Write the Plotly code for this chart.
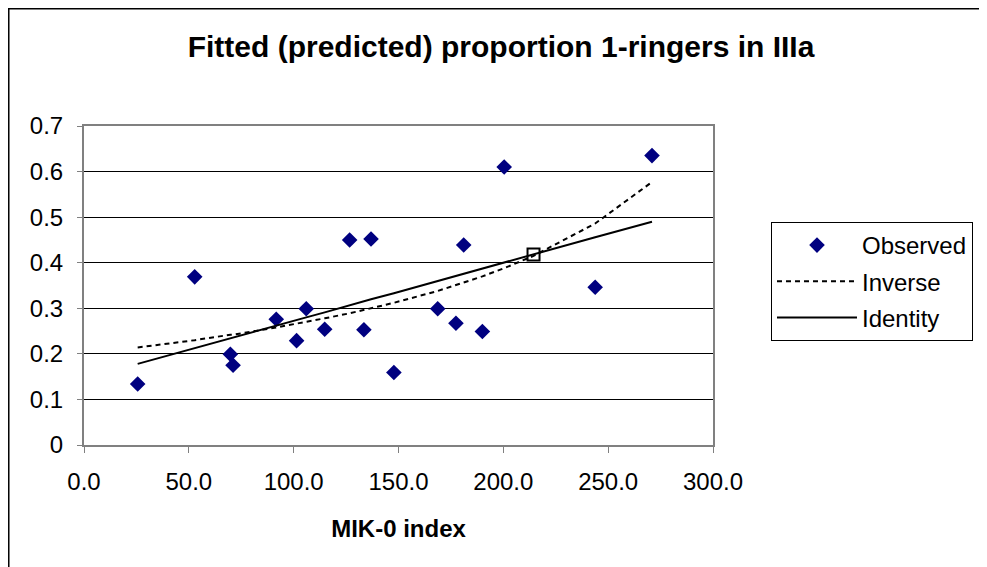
import plotly.graph_objects as go

# observed points (MIK-0 index, proportion of 1-ringers)
obs_x = [25.6, 52.8, 69.8, 71.1, 91.7, 101.4, 106.0, 114.8, 126.7, 133.5, 136.9, 147.8,
         168.7, 177.4, 181.1, 190.0, 200.4, 243.8, 270.9]
obs_y = [0.134, 0.369, 0.199, 0.175, 0.276, 0.229, 0.299, 0.254, 0.450, 0.253, 0.452, 0.159,
         0.299, 0.267, 0.439, 0.249, 0.610, 0.346, 0.635]

# fitted curves, read at each x
fit_x = [25.6, 52.8, 69.8, 71.1, 91.7, 101.4, 106.0, 114.8, 126.7, 133.5, 136.9, 147.8,
         168.7, 177.4, 181.1, 190.0, 200.4, 214.4, 243.8, 270.9]
inverse_y = [0.214, 0.230, 0.242, 0.242, 0.258, 0.266, 0.270, 0.278, 0.289, 0.296, 0.300, 0.312,
             0.338, 0.351, 0.356, 0.370, 0.388, 0.415, 0.486, 0.577]
identity_y = [0.178, 0.213, 0.234, 0.236, 0.262, 0.274, 0.280, 0.291, 0.307, 0.315, 0.320, 0.333,
              0.360, 0.371, 0.376, 0.387, 0.400, 0.418, 0.456, 0.490]

# predicted value for IIIa
pred_x = [214.4]
pred_y = [0.418]

font_family = "Liberation Sans, Arial, sans-serif"

fig = go.Figure()
fig.add_trace(go.Scatter(x=obs_x, y=obs_y, mode="markers", name="Observed",
                         marker=dict(symbol="diamond", size=12, color="#000080"),
                         legendgroup="a"))
fig.add_trace(go.Scatter(x=fit_x, y=inverse_y, mode="lines", name="Inverse",
                         line=dict(color="black", width=2, dash="5px,4px"),
                         legendgroup="b"))
fig.add_trace(go.Scatter(x=fit_x, y=identity_y, mode="lines", name="Identity",
                         line=dict(color="black", width=2),
                         legendgroup="c"))
fig.add_trace(go.Scatter(x=pred_x, y=pred_y, mode="markers", showlegend=False,
                         marker=dict(symbol="square-open", size=12, color="black",
                                     line=dict(width=2, color="black"))))

# page body has an 8px margin, so the figure is a bit smaller than the window
fig.update_layout(
    width=979, height=559,
    margin=dict(l=76, r=274, t=118, b=122),
    paper_bgcolor="white", plot_bgcolor="white",
    font=dict(family=font_family, size=24, color="black"),
    title=dict(text="<b>Fitted (predicted) proportion 1-ringers in IIIa</b>",
               x=0.5036, xref="container", xanchor="center",
               y=0.932, yref="container", yanchor="middle",
               font=dict(size=30)),
    legend=dict(x=1.0922, y=0.699, xanchor="left", yanchor="top",
                bordercolor="black", borderwidth=1, bgcolor="white",
                traceorder="grouped", tracegroupgap=2, itemwidth=80,
                entrywidth=112,
                font=dict(size=24)),
)

fig.update_xaxes(range=[0, 300], dtick=50, tickformat=".1f",
                 showgrid=False, zeroline=False,
                 showline=True, linecolor="#808080", linewidth=2, mirror=True,
                 ticks="outside", ticklen=6, tickcolor="#808080", tickwidth=1,
                 ticklabelstandoff=8,
                 title=dict(text="<b>MIK-0 index</b>", font=dict(size=24), standoff=26))
fig.update_yaxes(range=[0, 0.7], dtick=0.1,
                 showgrid=True, gridcolor="black", gridwidth=1, zeroline=False,
                 showline=True, linecolor="#808080", linewidth=2, mirror=True,
                 ticks="outside", ticklen=5, tickcolor="#808080", tickwidth=1,
                 ticklabelstandoff=9)

# outer chart border (only top and left edges fall inside the image)
fig.add_shape(type="rect", xref="paper", yref="paper",
              x0=-0.1196, x1=1.6, y0=-0.6, y1=1.3676,
              line=dict(color="black", width=1.5), layer="below")

fig.write_html("out.html")
